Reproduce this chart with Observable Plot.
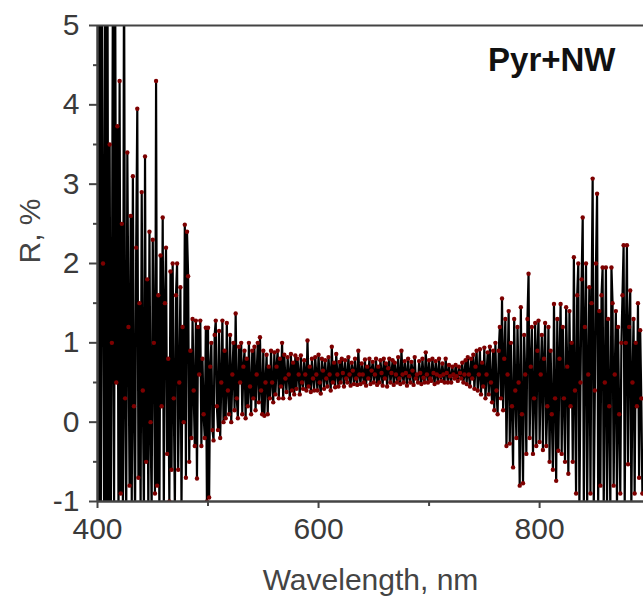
<!DOCTYPE html>
<html>
<head>
<meta charset="utf-8">
<script src="https://cdn.jsdelivr.net/npm/d3@7"></script>
<script src="https://cdn.jsdelivr.net/npm/@observablehq/plot@0.6"></script>
<style>
  html, body { margin: 0; padding: 0; background: #fff; }
  #chart svg { display: block; }
</style>
</head>
<body>
<div id="chart"></div>
<script>
// Sampling grid of the spectrum (nm)
const wavelengthStart = 400;
const wavelengthStep = 1;

// Reflectance R, % (one value per nm, 400-893 nm)
const reflectance = [
  6, -1.3, 5.5, -1.3, 6, 2.0, -1.3, 5.8, -1.2, 6, -1.3, 3.5, -1.2, 1.0, 6, -1.1, 5.5, 0.5, 3.73, -1.2,          // 400
  4.3, -0.9, 2.5, -1.2, 6, 0.3, -1.2, 3.4, 1.2, -0.8, 2.6, -1.1, 3.1, 0.2, -1.2, 2.2, 3.95, -0.7, 1.5, -1.1,     // 420
  2.9, 0.4, -1.2, 3.35, -0.5, 1.8, -1.2, 2.4, 0.0, -1.1, 2.3, 1.0, -0.9, 4.3, -0.8, 1.6, -1.2, 2.1, 0.2, 2.58,   // 440
  -1.1, 1.5, 2.2, -0.4, 0.8, -1.0, 1.9, -0.6, 2.0, 0.3, -1.1, 1.6, 2.0, -0.6, 0.5, 1.7, -1.1, 1.2, 0.0, 2.49,   // 460
  -0.7, 2.4, 1.84, -0.5, 0.9, -0.2, 1.3, 0.4, -0.3, 1.28, -0.71, 1.2, 0.6, 1.28, -0.3, 0.8, 0.1, -0.2, 1.19, -1.0, // 480
  1.19, -0.95, 0.7, 1.0, -0.1, -0.23, 1.1, 1.28, 0.2, -0.1, 1.15, -0.2, 0.5, 1.28, 0.0, 0.9, 0.05, 1.25, 0.4, 0.1, // 500
  1.1, 0.0, 0.6, 1.0, 0.15, 1.37, 0.3, 0.05, 0.95, 0.5, 1.0, 0.1, 0.7, 0.9, 0.05, 0.8, 0.2, 1.0, 0.45, 0.1,     // 520
  0.9, 0.3, 0.95, 0.15, 0.6, 1.0, 0.25, 1.07, 0.4, 0.1, 0.9, 0.08, 0.5, 0.85, 0.1, 0.7, 0.3, 0.9, 0.5, 0.25,    // 540
  0.88, 0.35, 0.7, 0.9, 0.3, 0.8, 0.45, 1.0, 0.3, 0.85, 0.55, 0.38, 0.82, 0.6, 0.3, 0.86, 0.4, 0.75, 0.35, 0.84, // 560
  0.42, 0.8, 0.6, 0.35, 0.84, 0.5, 0.42, 0.78, 0.6, 0.4, 1.03, 0.45, 0.7, 0.38, 0.8, 0.55, 0.4, 0.82, 0.6, 0.4,  // 580
  0.85, 0.5, 0.36, 0.8, 0.65, 0.42, 0.78, 0.55, 0.45, 0.82, 0.6, 0.4, 0.95, 0.5, 0.75, 0.44, 0.86, 0.6, 0.45, 0.76, // 600
  0.5, 0.8, 0.62, 0.45, 0.78, 0.55, 0.5, 0.82, 0.6, 0.46, 0.75, 0.65, 0.48, 0.8, 0.55, 0.47, 0.9, 0.6, 0.48, 0.74, // 620
  0.6, 0.5, 0.79, 0.46, 0.7, 0.55, 0.8, 0.48, 0.65, 0.76, 0.5, 0.6, 0.8, 0.47, 0.7, 0.5, 0.78, 0.62, 0.46, 0.8,   // 640
  0.55, 0.74, 0.45, 0.68, 0.8, 0.5, 0.62, 0.78, 0.47, 0.75, 0.6, 0.5, 0.82, 0.55, 0.48, 0.9, 0.6, 0.5, 0.77, 0.62, // 660
  0.46, 0.8, 0.58, 0.5, 0.76, 0.65, 0.47, 0.82, 0.55, 0.6, 0.5, 0.77, 0.62, 0.48, 0.8, 0.56, 0.5, 0.88, 0.6, 0.5,  // 680
  0.78, 0.55, 0.52, 0.8, 0.62, 0.48, 0.77, 0.6, 0.5, 0.8, 0.58, 0.52, 0.74, 0.6, 0.5, 0.8, 0.62, 0.5, 0.72, 0.58,  // 700
  0.5, 0.7, 0.6, 0.55, 0.72, 0.58, 0.52, 0.7, 0.62, 0.55, 0.75, 0.5, 0.6, 0.78, 0.48, 0.82, 0.6, 0.45, 0.8, 0.55,  // 720
  0.85, 0.42, 0.7, 0.9, 0.4, 0.6, 0.92, 0.35, 0.75, 0.45, 0.94, 0.3, 0.6, 0.88, 0.35, 0.95, 0.5, 0.25, 0.9, 0.15,  // 740
  1.0, 0.4, 0.1, 0.9, 1.2, 0.3, 1.56, 0.15, 0.8, 1.3, -0.3, 0.6, 1.4, -0.27, 1.0, 0.2, -0.57, 1.3, 0.4, -0.2,      // 760
  1.2, 0.5, -0.8, 1.45, 0.1, -0.77, 1.1, 0.6, -0.4, 1.3, 1.87, -0.2, 0.7, 1.2, -0.4, 0.3, 1.25, -0.3, 0.9, 1.28,   // 780
  -0.25, 0.6, 1.1, -0.35, 0.8, 1.25, -0.3, 0.2, 1.2, -0.5, 0.9, 0.1, -0.6, 1.49, 0.3, -0.74, 1.3, -0.36, 0.8, 1.49, // 800
  -0.4, 1.2, 0.3, -0.5, 1.45, 0.7, -0.65, 1.4, 0.2, 1.0, -0.5, 2.08, 0.4, -0.9, 1.6, 2.0, -1.1, 0.5, 1.8, 2.58,    // 820
  -1.1, 1.2, 2.0, -1.1, 0.6, 1.7, -0.9, 1.5, 3.07, -1.1, 0.4, 2.0, 2.88, -1.1, 1.4, -0.8, 1.6, 1.95, -1.1, 0.5,    // 840
  1.95, -1.1, 1.3, 0.2, -1.1, 1.95, 1.5, -0.8, 0.6, 1.4, -1.1, 1.2, 0.1, -0.9, 1.0, 1.6, 2.23, -1.1, 1.0, 2.23,    // 860
  -0.53, 1.2, 1.66, -1.1, 0.5, 1.3, -0.9, 1.0, 0.2, 1.5, -0.7, 1.16, 0.3, -0.9                                    // 880-893
];

const xMajorTicks = [400, 600, 800];
const xMinorTicks = [500, 700];
const yMajorTicks = [-1, 0, 1, 2, 3, 4, 5];
const yMinorTicks = [-0.5, 0.5, 1.5, 2.5, 3.5, 4.5];
const xLabel = "Wavelength, nm";
const yLabel = "R, %";
const sampleLabel = "Pyr+NW";

const data = reflectance.map((r, i) => ({wl: wavelengthStart + i * wavelengthStep, r}));

const axisColor = "#444";
const font = "Liberation Sans, Arial, sans-serif";

const chart = Plot.plot({
  width: 643,
  height: 601,
  marginLeft: 97,
  marginRight: 0,
  marginTop: 25,
  marginBottom: 100,
  style: {fontFamily: font, fontSize: "30px", color: "#3a3a3a", background: "#fff"},
  x: {domain: [400, 894]},
  y: {domain: [-1, 5]},
  marks: [
    Plot.line(data, {x: "wl", y: "r", stroke: "#000", strokeWidth: 2.2, strokeLinejoin: "miter", strokeMiterlimit: 2, clip: true}),
    Plot.dot(data, {x: "wl", y: "r", r: 2.2, fill: "#7d0000", stroke: "none", clip: true}),
    Plot.axisX({ticks: xMajorTicks, tickSize: 7, tickPadding: 9, label: null, tickFormat: d => String(d), stroke: axisColor, strokeWidth: 2, fill: "#3a3a3a"}),
    Plot.axisX({ticks: xMinorTicks, tickSize: 5, text: null, label: null, stroke: axisColor, strokeWidth: 2}),
    Plot.axisY({ticks: yMajorTicks, tickSize: 8, tickPadding: 10, label: null, tickFormat: d => String(d), stroke: axisColor, strokeWidth: 2, fill: "#3a3a3a"}),
    Plot.axisY({ticks: yMinorTicks, tickSize: 4, text: null, label: null, stroke: axisColor, strokeWidth: 2}),
    Plot.ruleY([5], {stroke: axisColor, strokeWidth: 2}),
    Plot.ruleY([-1], {stroke: axisColor, strokeWidth: 2.5}),
    Plot.ruleX([400], {stroke: axisColor, strokeWidth: 2.5}),
    Plot.text([sampleLabel], {frameAnchor: "top-right", dx: -28, dy: 22, textAnchor: "end", lineAnchor: "top", fontSize: 33, fontWeight: "bold", fill: "#111"}),
    Plot.text([xLabel], {frameAnchor: "bottom", dy: 79, lineAnchor: "middle", fontSize: 30, fill: "#444"}),
    Plot.text([yLabel], {frameAnchor: "left", dx: -67, rotate: -90, lineAnchor: "middle", fontSize: 30, fill: "#444"})
  ]
});
document.getElementById("chart").appendChild(chart);
</script>
</body>
</html>
